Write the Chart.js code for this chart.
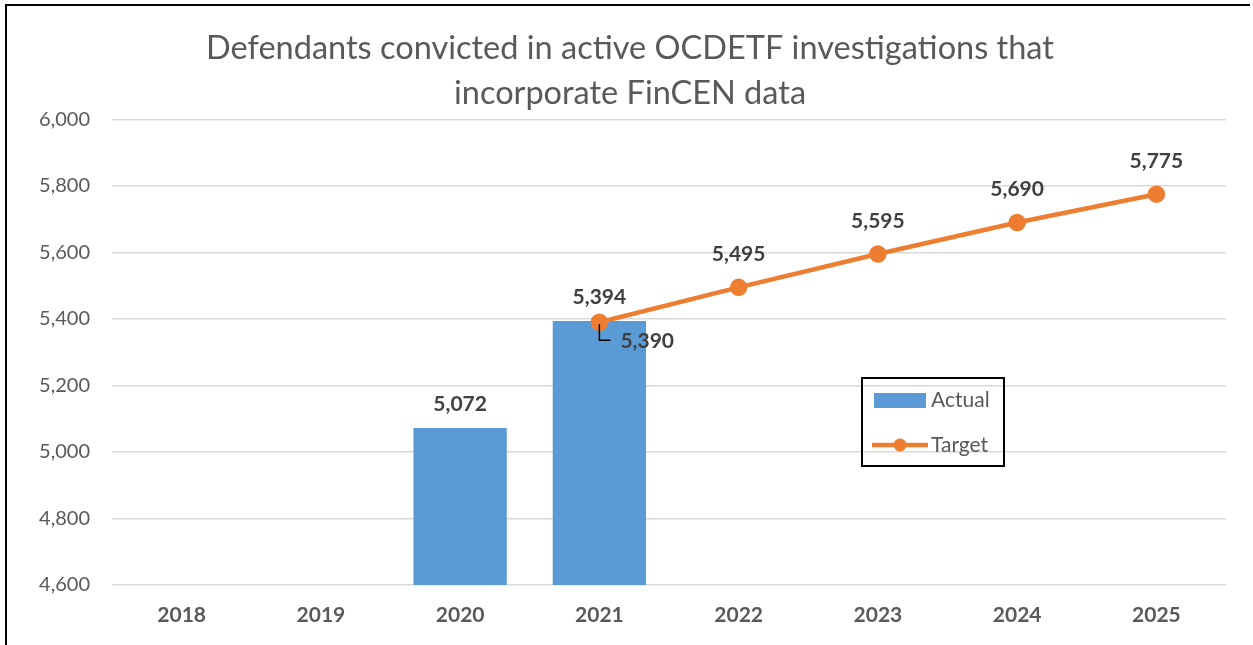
<!DOCTYPE html>
<html>
<head>
<meta charset="utf-8">
<script src="https://cdn.jsdelivr.net/npm/chart.js@4"></script>
<style>
  body { margin: 0; background: #fff; }
  #wrap { position: relative; width: 1253px; height: 645px; }
  #frame { position: absolute; left: 5px; top: 4px; width: 1243px; height: 650px;
           border-left: 2px solid #000; border-top: 2px solid #000; pointer-events: none; }
</style>
</head>
<body>
<div id="wrap">
  <canvas id="chart" width="1253" height="645"></canvas>
  <div id="frame"></div>
</div>
<script>
// dati
const anni = ['2018', '2019', '2020', '2021', '2022', '2023', '2024', '2025'];
const actual = [null, null, 5072, 5394, null, null, null, null];
const target = [null, null, null, 5390, 5495, 5595, 5690, 5775];
const titolo = ['Defendants convicted in active OCDETF investigations that', 'incorporate FinCEN data'];

const FONT = 'Lato, "Open Sans", sans-serif';
const grigio = '#595959';
const blu = '#5B9BD5';
const arancio = '#ED7D31';

const fmt = v => Number(v).toLocaleString('en-US');

// etichette dati + legenda
const etichette = {
  id: 'etichette',
  afterDatasetsDraw(chart) {
    const ctx = chart.ctx;
    ctx.save();
    ctx.font = 'bold 21px ' + FONT;
    ctx.fillStyle = '#404040';
    ctx.textAlign = 'center';
    ctx.textBaseline = 'middle';

    chart.getDatasetMeta(0).data.forEach((el, i) => {
      if (actual[i] == null) return;
      ctx.fillText(fmt(actual[i]), el.x, el.y - 24);
    });

    chart.getDatasetMeta(1).data.forEach((el, i) => {
      if (target[i] == null) return;
      if (i === 3) {
        // etichetta spostata con linea guida
        ctx.strokeStyle = '#000';
        ctx.lineWidth = 1.5;
        ctx.beginPath();
        ctx.moveTo(el.x, el.y + 2);
        ctx.lineTo(el.x, el.y + 18);
        ctx.lineTo(el.x + 11, el.y + 18);
        ctx.stroke();
        ctx.textAlign = 'left';
        ctx.fillText(fmt(target[i]), el.x + 21, el.y + 19);
        ctx.textAlign = 'center';
      } else {
        ctx.fillText(fmt(target[i]), el.x, el.y - 33);
      }
    });
    ctx.restore();
  },
  afterDraw(chart) {
    const ctx = chart.ctx;
    ctx.save();
    // riquadro legenda
    ctx.strokeStyle = '#000';
    ctx.lineWidth = 2;
    ctx.strokeRect(862, 378, 142, 88);
    ctx.font = '21px ' + FONT;
    ctx.textBaseline = 'middle';
    ctx.textAlign = 'left';
    // Actual
    ctx.fillStyle = blu;
    ctx.fillRect(874, 393, 52, 15);
    ctx.fillStyle = grigio;
    ctx.fillText(chart.data.datasets[0].label, 931, 400);
    // Target
    ctx.strokeStyle = arancio;
    ctx.lineWidth = 4.5;
    ctx.beginPath();
    ctx.moveTo(872, 445);
    ctx.lineTo(928, 445);
    ctx.stroke();
    ctx.fillStyle = arancio;
    ctx.beginPath();
    ctx.arc(900, 445, 6.5, 0, Math.PI * 2);
    ctx.fill();
    ctx.fillStyle = grigio;
    ctx.fillText(chart.data.datasets[1].label, 931, 445);
    ctx.restore();
  }
};

new Chart(document.getElementById('chart'), {
  data: {
    labels: anni,
    datasets: [
      {
        type: 'bar',
        label: 'Actual',
        data: actual,
        backgroundColor: blu,
        barPercentage: 0.67,
        categoryPercentage: 1,
        order: 2
      },
      {
        type: 'line',
        label: 'Target',
        data: target,
        borderColor: arancio,
        backgroundColor: arancio,
        borderWidth: 4.5,
        pointRadius: 6.5,
        pointHoverRadius: 6.5,
        pointBackgroundColor: arancio,
        pointBorderColor: arancio,
        spanGaps: false,
        order: 1
      }
    ]
  },
  options: {
    responsive: false,
    animation: false,
    events: [],
    layout: { padding: { left: 34, right: 27, top: 0, bottom: 0 } },
    plugins: {
      legend: { display: false },
      tooltip: { enabled: false },
      title: {
        display: true,
        text: titolo,
        color: grigio,
        font: { family: FONT, size: 32.5, weight: 'normal', lineHeight: 1.39 },
        padding: { top: 26, bottom: 3 }
      }
    },
    scales: {
      x: {
        grid: { display: false, drawTicks: false },
        border: { display: false },
        ticks: {
          color: grigio,
          font: { family: FONT, size: 21, weight: 'bold' },
          padding: 18
        },
        afterFit(scale) { scale.height = 60; }
      },
      y: {
        min: 4600,
        max: 6000,
        grid: { color: '#d9d9d9', lineWidth: 1.5, drawTicks: false },
        border: { display: false },
        ticks: {
          stepSize: 200,
          color: grigio,
          font: { family: FONT, size: 20 },
          padding: 22,
          callback: v => fmt(v)
        },
        afterFit(scale) { scale.width = 78; }
      }
    }
  },
  plugins: [etichette]
});
</script>
</body>
</html>
